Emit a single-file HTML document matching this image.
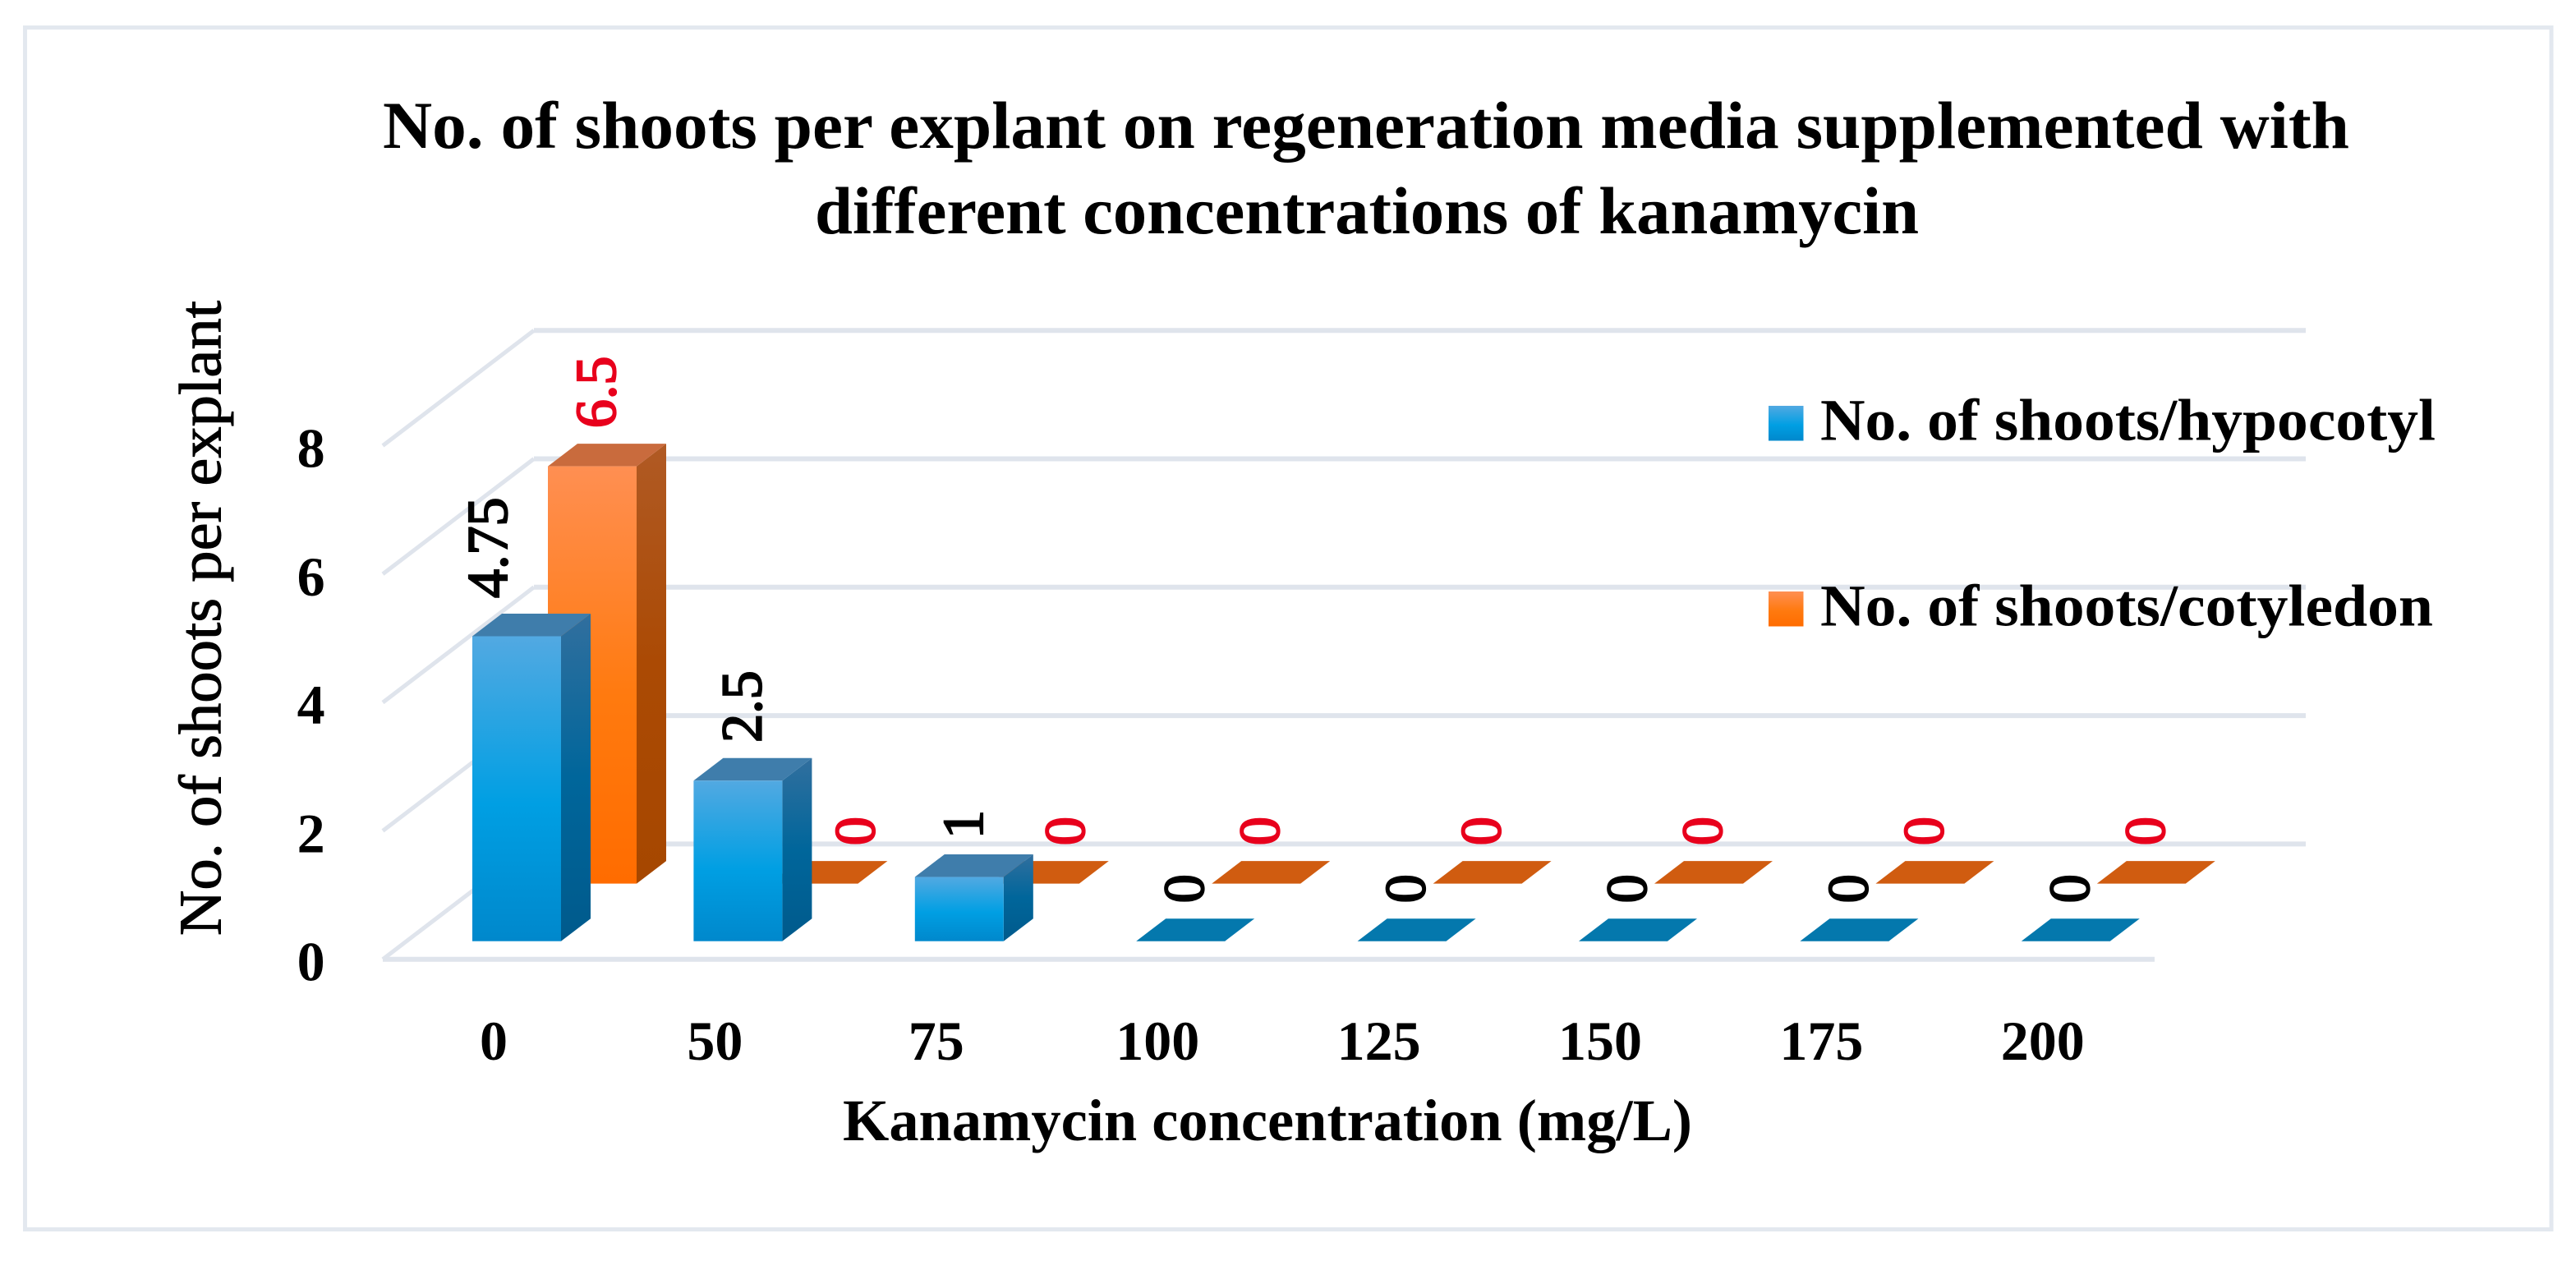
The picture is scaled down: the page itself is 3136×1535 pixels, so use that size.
<!DOCTYPE html>
<html lang="en">
<head>
<meta charset="utf-8">
<title>No. of shoots per explant</title>
<style>
html,body{margin:0;padding:0;background:#fff;width:3136px;height:1535px;overflow:hidden}
svg{display:block}
text{font-family:"Liberation Serif",serif;fill:#000}
.bold{font-weight:700}
</style>
</head>
<body>
<svg id="chart" xmlns="http://www.w3.org/2000/svg" width="3136" height="1535" viewBox="0 0 3136 1535">
<defs>
<linearGradient id="blueFront" x1="0" y1="0" x2="0" y2="1"><stop offset="0" stop-color="#52a9e2"/><stop offset="0.55" stop-color="#009fe3"/><stop offset="1" stop-color="#0088cc"/></linearGradient>
<linearGradient id="blueSide" x1="0" y1="0" x2="0" y2="1"><stop offset="0" stop-color="#316f9e"/><stop offset="0.5" stop-color="#00669b"/><stop offset="1" stop-color="#005a8c"/></linearGradient>
<linearGradient id="orangeFront" x1="0" y1="0" x2="0" y2="1"><stop offset="0" stop-color="#ff8f52"/><stop offset="0.55" stop-color="#ff7a0f"/><stop offset="1" stop-color="#ff6c00"/></linearGradient>
<linearGradient id="orangeSide" x1="0" y1="0" x2="0" y2="1"><stop offset="0" stop-color="#b05a24"/><stop offset="0.5" stop-color="#ab4a04"/><stop offset="1" stop-color="#a64700"/></linearGradient>
</defs>
<rect x="30.5" y="33.5" width="3075.5" height="1463" fill="#fff" stroke="#e3e8ef" stroke-width="5"/>
<g id="grid"></g>
<g id="bars"></g>
<g id="labels"></g>
<g id="yticks"></g>
<g id="xticks"></g>
<text class="bold" x="466" y="180" font-size="82" textLength="2394" lengthAdjust="spacingAndGlyphs">No. of shoots per explant on regeneration media supplemented with</text>
<text class="bold" x="992" y="284" font-size="82" textLength="1344" lengthAdjust="spacingAndGlyphs">different concentrations of kanamycin</text>
<text transform="translate(268.7 1139) rotate(-90)" font-size="73" stroke="#000" stroke-width="1" textLength="773" lengthAdjust="spacingAndGlyphs">No. of shoots per explant</text>
<text class="bold" x="1026" y="1388" font-size="72" textLength="1034" lengthAdjust="spacingAndGlyphs">Kanamycin concentration (mg/L)</text>
<rect x="2153" y="494" width="42.5" height="42.5" fill="url(#blueFront)"/>
<text class="bold" x="2216" y="535.7" font-size="72" textLength="749" lengthAdjust="spacingAndGlyphs">No. of shoots/hypocotyl</text>
<rect x="2153" y="720" width="42.5" height="42.5" fill="url(#orangeFront)"/>
<text class="bold" x="2216" y="761.7" font-size="72" textLength="746" lengthAdjust="spacingAndGlyphs">No. of shoots/cotyledon</text>
</svg>
<script>
// Chart data
const categories = ['0', '50', '75', '100', '125', '150', '175', '200'];
const hypocotylValues = [4.75, 2.5, 1, 0, 0, 0, 0, 0];
const cotyledonValues = [6.5, 0, 0, 0, 0, 0, 0, 0];
const yTickValues = [0, 2, 4, 6, 8];

// Layout
const NS = 'http://www.w3.org/2000/svg';
const UNIT = 78.15, FRONT_ZERO = 1167.7, BACK_ZERO = 1027.4;
const LEFT_FRONT = 466, LEFT_BACK = 650, RIGHT_FRONT = 2623, RIGHT_BACK = 2807;
const BAR_X0 = 575, BAR_STEP = 269.4, BAR_W = 108, DEPTH_X = 36, DEPTH_Y = 27.5;
const SERIES_DX = 92, BLUE_BASE = 1145.7, ORANGE_BASE = 1075.6;
const LABEL_DX = 58, LABEL_GAP = 19;
const hypocotylLabelShift = {0: -40};
const cotyledonLabelShift = {1: 46, 2: 32};

function yFront(v) { return FRONT_ZERO - v * UNIT; }
function yBack(v) { return BACK_ZERO - v * UNIT; }
function xBar(i) { return BAR_X0 + i * BAR_STEP; }

function make(tag, attrs, parent) {
  const el = document.createElementNS(NS, tag);
  for (const k in attrs) el.setAttribute(k, attrs[k]);
  parent.appendChild(el);
  return el;
}
function pts(a) { return a.map(p => p[0].toFixed(1) + ',' + p[1].toFixed(1)).join(' '); }

const gridG = document.getElementById('grid');
yTickValues.forEach(function (v) {
  const back = make('line', {x1: LEFT_BACK, y1: yBack(v), x2: RIGHT_BACK, y2: yBack(v), stroke: '#dfe4ec', 'stroke-width': 6}, gridG);
  
  
  const side = make('line', {x1: LEFT_FRONT, y1: yFront(v), x2: LEFT_BACK, y2: yBack(v), stroke: '#dfe4ec', 'stroke-width': 5}, gridG);
  
  
});
const floorLine = make('line', {x1: LEFT_FRONT, y1: FRONT_ZERO, x2: RIGHT_FRONT, y2: FRONT_ZERO, stroke: '#dfe4ec', 'stroke-width': 6}, gridG);



const barsG = document.getElementById('bars');
const labelsG = document.getElementById('labels');

function drawSeries(values, key, x0, base, front, side, topFill, plateFill, labelFill, labelShift) {
  values.forEach(function (v, i) {
    const x = x0 + xBar(i), h = v * UNIT, top = base - h;
    const g = make('g', {}, barsG);
    
    
    if (v > 0) {
      const sideFace = make('polygon', {points: pts([[x + BAR_W, top], [x + BAR_W + DEPTH_X, top - DEPTH_Y], [x + BAR_W + DEPTH_X, base - DEPTH_Y], [x + BAR_W, base]]), fill: side}, g);
      
      
      const topFace = make('polygon', {points: pts([[x, top], [x + DEPTH_X, top - DEPTH_Y], [x + BAR_W + DEPTH_X, top - DEPTH_Y], [x + BAR_W, top]]), fill: topFill}, g);
      
      
      const frontFace = make('rect', {x: x, y: top, width: BAR_W, height: h, fill: front}, g);
      
      
    } else {
      const plate = make('polygon', {points: pts([[x, base], [x + DEPTH_X, base - DEPTH_Y], [x + BAR_W + DEPTH_X, base - DEPTH_Y], [x + BAR_W, base]]), fill: plateFill}, g);
      
      
    }
    const cx = x + LABEL_DX + (labelShift[i] || 0);
    const ly = top - DEPTH_Y - LABEL_GAP;
    const t = make('text', {transform: 'translate(' + (cx + 24) + ' ' + ly + ') rotate(-90)', 'font-size': 70, style: 'fill:' + labelFill + ';stroke:' + labelFill + ';stroke-width:2.2'}, labelsG);
    t.textContent = String(v);
    
    
  });
}
drawSeries(cotyledonValues, 'cotyledon', SERIES_DX, ORANGE_BASE, 'url(#orangeFront)', 'url(#orangeSide)', '#c96b3d', '#d05c10', '#e8001c', cotyledonLabelShift);
drawSeries(hypocotylValues, 'hypocotyl', 0, BLUE_BASE, 'url(#blueFront)', 'url(#blueSide)', '#3f7dab', '#0478ad', '#000', hypocotylLabelShift);

const yG = document.getElementById('yticks');
yTickValues.forEach(function (v) {
  const t = make('text', {x: 378.6, y: yFront(v) + 26, 'font-size': 68, 'text-anchor': 'middle', class: 'bold'}, yG);
  t.textContent = String(v);
  
  
});
const xG = document.getElementById('xticks');
categories.forEach(function (c, i) {
  const t = make('text', {x: xBar(i) + 26, y: 1290, 'font-size': 68, 'text-anchor': 'middle', class: 'bold'}, xG);
  t.textContent = c;
  
  
});
</script>
</body>
</html>
